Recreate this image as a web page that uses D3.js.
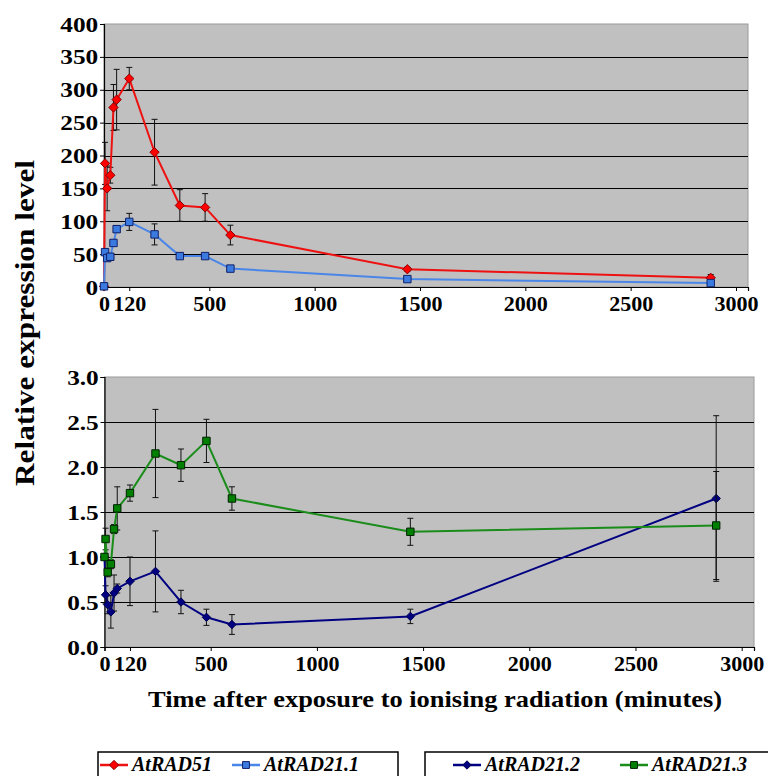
<!DOCTYPE html>
<html><head><meta charset="utf-8">
<script src="https://cdn.jsdelivr.net/npm/d3@7"></script>
<style>body{margin:0;background:#fff;}svg{display:block;}</style>
</head><body>
<svg id="c" width="768" height="776"></svg>
<script>
const times = [0, 5, 15, 30, 45, 60, 120, 240, 360, 480, 600, 1440, 2880];
const rad51 = [1, 188, 150, 170, 273, 285, 317, 205, 124, 121, 79, 27, 14];
const rad51Err = [0, 32, 34, 12, 35, 46, 17, 50, 24, 21, 15, 3, 5];
const rad211 = [1, 53, 44, 46, 67, 88, 99, 80, 47, 47, 28, 12, 6];
const rad211Err = [0, 3, 3, 3, 4, 5, 13, 16, 3, 3, 3, 2, 2];
const rad212 = [1, 0.58, 0.47, 0.39, 0.6, 0.65, 0.73, 0.84, 0.5, 0.33, 0.25, 0.34, 1.65];
const rad212Err = [0, 0.1, 0.1, 0.18, 0.2, 0.05, 0.27, 0.45, 0.13, 0.09, 0.11, 0.08, 0.92];
const rad213 = [1.0, 1.2, 0.83, 0.92, 1.31, 1.54, 1.71, 2.15, 2.02, 2.29, 1.65, 1.28, 1.35];
const rad213Err = [0, 0.12, 0.05, 0.05, 0.05, 0.24, 0.09, 0.49, 0.18, 0.24, 0.13, 0.15, 0.6];
const xTicks = [0, 120, 500, 1000, 1500, 2000, 2500, 3000];
const yTicksTop = [0, 50, 100, 150, 200, 250, 300, 350, 400];
const yTicksBottom = [0, 0.5, 1.0, 1.5, 2.0, 2.5, 3.0];
const legend1 = ["AtRAD51", "AtRAD21.1"];
const legend2 = ["AtRAD21.2", "AtRAD21.3"];

const svg = d3.select("#c");
const FONT = "'Liberation Serif','Times New Roman',Times,serif";

function panel(cfg) {
  const x = d3.scaleLinear().domain([0, cfg.xmax]).range([cfg.x0, cfg.x1]);
  const y = d3.scaleLinear().domain([0, cfg.ymax]).range([cfg.y0, cfg.y1]);
  const g = svg.append("g");
  g.append("rect").attr("x", cfg.x0).attr("y", cfg.y1)
    .attr("width", cfg.x1 - cfg.x0).attr("height", cfg.y0 - cfg.y1)
    .attr("fill", "#c0c0c0").attr("stroke", "#9a9a9a").attr("stroke-width", 1);
  g.selectAll("line.grid").data(cfg.yTicks.filter(v => v > 0 && v < cfg.ymax))
    .enter().append("line")
    .attr("x1", cfg.x0).attr("x2", cfg.x1)
    .attr("y1", d => Math.round(y(d)) + 0.5).attr("y2", d => Math.round(y(d)) + 0.5)
    .attr("stroke", "#000").attr("stroke-width", 1.2);
  const xa = g.append("g").attr("transform", `translate(0,${cfg.y0})`)
    .call(d3.axisBottom(x).tickValues(xTicks).tickSize(4).tickFormat(d3.format("d")));
  const ya = g.append("g").attr("transform", `translate(${cfg.x0},0)`)
    .call(d3.axisLeft(y).tickValues(cfg.yTicks).tickSize(4).tickFormat(cfg.fmt));
  [xa, ya].forEach(a => {
    a.select(".domain").attr("stroke", "#000").attr("stroke-width", 1.2);
    a.selectAll(".tick line").attr("stroke", "#000");
    a.selectAll("text").attr("font-family", FONT).attr("font-weight", "bold").attr("fill", "#000");
  });
  xa.selectAll("text").attr("font-size", 21).attr("dy", "0.71em").attr("y", 9)
    .attr("transform", "scale(1.05,1)");
  ya.selectAll("text").attr("font-size", 22).attr("x", -5).attr("transform", "scale(1.15,1)");
  cfg.series.forEach(s => {
    const pts = times.map((t, i) => ({t, v: s.vals[i], e: s.err[i]}));
    const eb = g.append("g");
    pts.filter(p => p.e > 0).forEach(p => {
      const cx = x(p.t), ya1 = y(p.v + p.e), ya2 = y(Math.max(0, p.v - p.e));
      eb.append("line").attr("x1", cx).attr("x2", cx).attr("y1", ya1).attr("y2", ya2)
        .attr("stroke", "#111").attr("stroke-width", 1);
      [ya1, ya2].forEach(yy => eb.append("line").attr("x1", cx - 3).attr("x2", cx + 3)
        .attr("y1", yy).attr("y2", yy).attr("stroke", "#111").attr("stroke-width", 1));
    });
    g.append("path").datum(pts)
      .attr("d", d3.line().x(p => x(p.t)).y(p => y(p.v)))
      .attr("fill", "none").attr("stroke", s.color).attr("stroke-width", 2);
    g.selectAll(null).data(pts).enter().append("path")
      .attr("transform", p => `translate(${x(p.t)},${y(p.v)})`)
      .attr("d", s.shape === "diamond"
        ? d3.symbol().type(d3.symbolDiamond2).size(s.size)()
        : d3.symbol().type(d3.symbolSquare2).size(s.size)())
      .attr("fill", s.fill).attr("stroke", s.stroke).attr("stroke-width", 1);
  });
}

panel({x0: 104, x1: 748, xmax: 3057, y0: 287, y1: 24, ymax: 400,
  yTicks: yTicksTop, fmt: d3.format("d"),
  series: [
    {vals: rad51, err: rad51Err, color: "#ee1111", fill: "#ff0000", stroke: "#8b0000", shape: "diamond", size: 55},
    {vals: rad211, err: rad211Err, color: "#4a86e8", fill: "#3b7be0", stroke: "#10206a", shape: "square", size: 70}
  ]});

panel({x0: 104.5, x1: 754, xmax: 3058, y0: 647, y1: 377, ymax: 3,
  yTicks: yTicksBottom, fmt: d3.format(".1f"),
  series: [
    {vals: rad212, err: rad212Err, color: "#000080", fill: "#000080", stroke: "#000050", shape: "diamond", size: 45},
    {vals: rad213, err: rad213Err, color: "#1a8c1a", fill: "#008000", stroke: "#002200", shape: "square", size: 70}
  ]});

svg.append("text").attr("transform", "translate(34,323) rotate(-90)")
  .attr("text-anchor", "middle").attr("font-family", FONT).attr("font-weight", "bold")
  .attr("font-size", 27).attr("textLength", 326).attr("lengthAdjust", "spacingAndGlyphs")
  .text("Relative expression level");
svg.append("text").attr("x", 435).attr("y", 707)
  .attr("text-anchor", "middle").attr("font-family", FONT).attr("font-weight", "bold")
  .attr("font-size", 24).attr("textLength", 574).attr("lengthAdjust", "spacingAndGlyphs")
  .text("Time after exposure to ionising radiation (minutes)");

function legend(x0, w, items, specs) {
  const g = svg.append("g");
  g.append("rect").attr("x", x0).attr("y", 752).attr("width", w).attr("height", 40)
    .attr("fill", "#fff").attr("stroke", "#000").attr("stroke-width", 1.5);
  items.forEach((name, i) => {
    const s = specs[i];
    g.append("line").attr("x1", s.lx).attr("x2", s.lx + 28).attr("y1", 765).attr("y2", 765)
      .attr("stroke", s.color).attr("stroke-width", 2.5);
    g.append("path").attr("transform", `translate(${s.lx + 14},765)`)
      .attr("d", d3.symbol().type(s.shape === "diamond" ? d3.symbolDiamond2 : d3.symbolSquare2).size(s.size)())
      .attr("fill", s.fill).attr("stroke", s.stroke);
    g.append("text").attr("x", s.lx + 32).attr("y", 771).attr("font-family", FONT)
      .attr("font-weight", "bold").attr("font-style", "italic").attr("font-size", 20).text(name);
  });
}
legend(98, 300, legend1, [
  {lx: 100, color: "#ee1111", fill: "#ff0000", stroke: "#8b0000", shape: "diamond", size: 55},
  {lx: 232, color: "#4a86e8", fill: "#3b7be0", stroke: "#10206a", shape: "square", size: 60}
]);
legend(425, 345, legend2, [
  {lx: 453, color: "#000080", fill: "#000080", stroke: "#000050", shape: "diamond", size: 45},
  {lx: 620, color: "#1a8c1a", fill: "#008000", stroke: "#002200", shape: "square", size: 60}
]);
</script>
</body></html>
